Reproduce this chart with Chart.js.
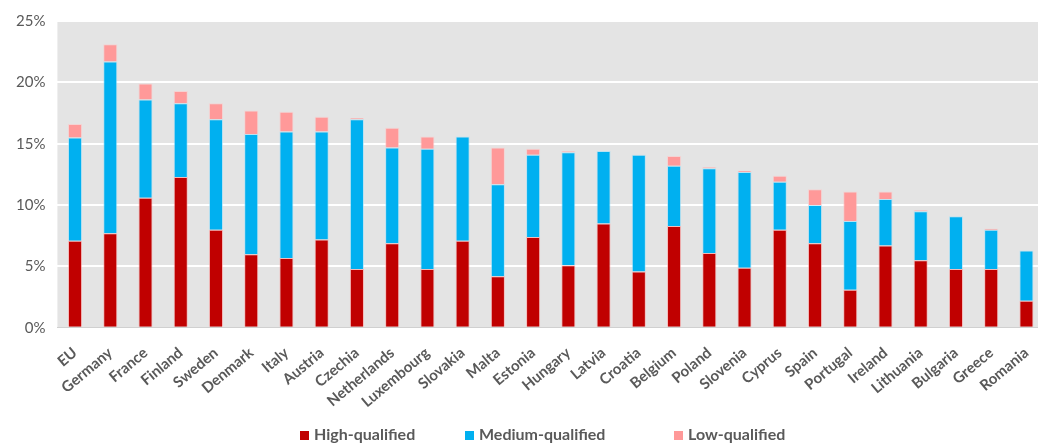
<!DOCTYPE html>
<html>
<head>
<meta charset="utf-8">
<script src="https://cdn.jsdelivr.net/npm/chart.js@4"></script>
<style>
  html, body { margin: 0; padding: 0; background: #fff; overflow: hidden; }
  #wrap { width: 1046px; height: 443px; position: relative; }
  #legend { position: absolute; top: 425px; left: 0; height: 18px; width: 1046px;
    font: bold 16px Lato, "Open Sans", sans-serif; color: #595959; }
  #legend span.item { position: absolute; top: 0; white-space: nowrap; line-height: 18px; }
  #legend i { display: inline-block; width: 9px; height: 9px; margin-right: 5px; vertical-align: 0px; }
</style>
</head>
<body>
<div id="wrap"><canvas id="myChart"></canvas><div id="legend"></div></div>
<script>
const countries = ['EU', 'Germany', 'France', 'Finland', 'Sweden', 'Denmark', 'Italy', 'Austria', 'Czechia',
  'Netherlands', 'Luxembourg', 'Slovakia', 'Malta', 'Estonia', 'Hungary', 'Latvia', 'Croatia', 'Belgium',
  'Poland', 'Slovenia', 'Cyprus', 'Spain', 'Portugal', 'Ireland', 'Lithuania', 'Bulgaria', 'Greece', 'Romania'];

const highQualified = [7.1, 7.7, 10.6, 12.3, 8.0, 6.0, 5.7, 7.2, 4.8, 6.9, 4.8, 7.1, 4.2, 7.4, 5.1, 8.5, 4.6, 8.3,
  6.1, 4.9, 8.0, 6.9, 3.1, 6.7, 5.5, 4.8, 4.8, 2.2];
const mediumQualified = [8.4, 14.0, 8.0, 6.0, 9.0, 9.8, 10.3, 8.8, 12.2, 7.8, 9.8, 8.5, 7.5, 6.7, 9.2, 5.9, 9.5, 4.9,
  6.9, 7.8, 3.9, 3.1, 5.6, 3.8, 4.0, 4.3, 3.2, 4.1];
const lowQualified = [1.1, 1.4, 1.3, 1.0, 1.3, 1.9, 1.6, 1.2, 0.1, 1.6, 1.0, 0.0, 3.0, 0.5, 0.1, 0.0, 0.0, 0.8,
  0.1, 0.1, 0.5, 1.3, 2.4, 0.6, 0.1, 0.0, 0.1, 0.0];

const yTicks = [0, 5, 10, 15, 20, 25];

const txt = '#595959';
const fontFam = 'Lato, "Open Sans", sans-serif';

// grey plot background like the Excel original
const plotBg = {
  id: 'plotBg',
  beforeDraw(chart) {
    const a = chart.chartArea;
    const c = chart.ctx;
    c.save();
    c.fillStyle = '#e4e4e4';
    c.fillRect(a.left, a.top, a.right - a.left, a.bottom - a.top);
    c.restore();
  }
};

const ctx = document.getElementById('myChart');
const chart = new Chart(ctx, {
  type: 'bar',
  data: {
    labels: countries,
    datasets: [
      {
        label: 'High-qualified',
        data: highQualified,
        backgroundColor: '#c00000',
        borderColor: 'rgba(255,160,160,0.6)',
        borderWidth: 1
      },
      {
        label: 'Medium-qualified',
        data: mediumQualified,
        backgroundColor: '#00b0f0',
        borderColor: 'rgba(160,225,250,0.6)',
        borderWidth: 1
      },
      {
        label: 'Low-qualified',
        data: lowQualified,
        backgroundColor: '#ff9999',
        borderColor: 'rgba(255,200,200,0.6)',
        borderWidth: 1
      }
    ]
  },
  options: {
    responsive: true,
    maintainAspectRatio: false,
    animation: false,
    layout: {
      padding: { top: 8, left: 4, right: 0, bottom: 24 }
    },
    datasets: {
      bar: { barPercentage: 0.4, categoryPercentage: 1.0 }
    },
    scales: {
      x: {
        stacked: true,
        grid: { display: false },
        border: { color: '#d0d0d0', width: 1 },
        ticks: {
          color: txt,
          minRotation: 40,
          maxRotation: 40,
          autoSkip: false,
          padding: 8,
          font: { family: fontFam, size: 15, weight: 'bold' }
        }
      },
      y: {
        stacked: true,
        min: 0,
        max: 25,
        afterBuildTicks: (axis) => { axis.ticks = yTicks.map(v => ({ value: v })); },
        grid: { color: '#ffffff', lineWidth: 2, drawTicks: false },
        border: { display: false },
        ticks: {
          color: txt,
          padding: 12,
          font: { family: fontFam, size: 15 },
          callback: (v) => v + '%'
        }
      }
    },
    plugins: {
      legend: { display: false },
      tooltip: { enabled: false }
    }
  },
  plugins: [plotBg]
});

// legend below the chart, spaced like the original
const legendX = [300, 465, 674];
const legendEl = document.getElementById('legend');
chart.data.datasets.forEach((ds, i) => {
  const s = document.createElement('span');
  s.className = 'item';
  s.style.left = legendX[i] + 'px';
  s.innerHTML = '<i style="background:' + ds.backgroundColor + '"></i>' + ds.label;
  legendEl.appendChild(s);
});
</script>
</body>
</html>
